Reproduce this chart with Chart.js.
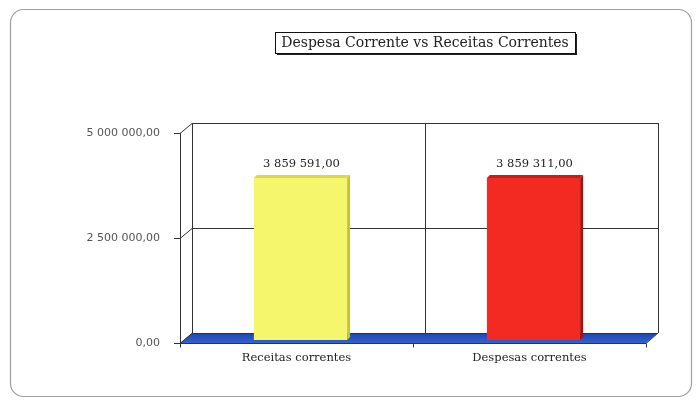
<!DOCTYPE html>
<html>
<head>
<meta charset="utf-8">
<script src="https://cdn.jsdelivr.net/npm/chart.js@4/dist/chart.umd.min.js"></script>
<style>
  html, body { margin: 0; padding: 0; background: #fff; }
  #wrap { width: 698px; height: 403px; }
</style>
</head>
<body>
<div id="wrap"><canvas id="chart" width="698" height="403"></canvas></div>
<script>
// chart data
const categories = ['Receitas correntes', 'Despesas correntes'];
const values = [3859591.00, 3859311.00];
const barColors = ['#f6f66c', '#f22a22'];
const barTopColors = ['#d9d94e', '#c81c16'];
const barSideColors = ['#c4c43c', '#a81410'];
const chartTitle = 'Despesa Corrente vs Receitas Correntes';
const yMax = 5000000;
const yStep = 2500000;

// 3d depth of the walls and bars
const depthX = 12, depthY = -10;
const barShiftX = 4, barShiftY = -3;

function formatPt(v) {
    const parts = v.toFixed(2).split('.');
    const intPart = parts[0].replace(/\B(?=(\d{3})+(?!\d))/g, ' ');
    return intPart + ',' + parts[1];
}

const frame3d = {
    id: 'frame3d',
    beforeDraw(chart) {
        const ctx = chart.ctx;
        ctx.save();
        // card border
        ctx.strokeStyle = '#a0a0a0';
        ctx.lineWidth = 1.2;
        ctx.beginPath();
        ctx.roundRect(10.5, 9.5, 681, 387, 13);
        ctx.stroke();

        // title box
        ctx.font = '14px "DejaVu Serif"';
        const tw = ctx.measureText(chartTitle).width;
        const cx = 425, bx = Math.round(cx - tw / 2 - 6), bw = Math.round(tw + 12);
        ctx.fillStyle = '#222';
        ctx.fillRect(bx + 2, 34, bw, 21);
        ctx.fillStyle = '#fff';
        ctx.fillRect(bx, 32, bw, 21);
        ctx.strokeStyle = '#111';
        ctx.lineWidth = 1;
        ctx.strokeRect(bx + 0.5, 32.5, bw, 21);
        ctx.fillStyle = '#222';
        ctx.textAlign = 'center';
        ctx.textBaseline = 'middle';
        ctx.fillText(chartTitle, cx, 43.5);
        ctx.restore();
    },
    beforeDatasetsDraw(chart) {
        const ctx = chart.ctx;
        const a = chart.chartArea;
        const y = chart.scales.y;
        const x = chart.scales.x;
        ctx.save();
        ctx.strokeStyle = '#333';
        ctx.lineWidth = 1;
        const top = y.getPixelForValue(yMax);
        const bot = y.getPixelForValue(0);

        // blue floor
        const grad = ctx.createLinearGradient(0, bot + depthY, 0, bot);
        grad.addColorStop(0, '#1f44b0');
        grad.addColorStop(1, '#3462d0');
        ctx.fillStyle = grad;
        ctx.beginPath();
        ctx.moveTo(a.left, bot);
        ctx.lineTo(a.right, bot);
        ctx.lineTo(a.right + depthX, bot + depthY);
        ctx.lineTo(a.left + depthX, bot + depthY);
        ctx.closePath();
        ctx.fill();

        // back wall gridlines
        ctx.beginPath();
        for (let v = 0; v <= yMax; v += yStep) {
            const py = Math.round(y.getPixelForValue(v) + depthY) + 0.5;
            ctx.moveTo(a.left + depthX, py);
            ctx.lineTo(a.right + depthX, py);
            // side wall diagonal and tick
            const fy = Math.round(y.getPixelForValue(v)) + 0.5;
            ctx.moveTo(a.left - 6, fy);
            ctx.lineTo(a.left, fy);
            ctx.lineTo(a.left + depthX, py);
        }
        // wall edges
        const bl = Math.round(a.left + depthX) + 0.5;
        const br = Math.round(a.right + depthX) + 0.5;
        ctx.moveTo(bl, top + depthY);
        ctx.lineTo(bl, bot + depthY);
        ctx.moveTo(br, top + depthY);
        ctx.lineTo(br, bot + depthY);
        // category divider on the back wall
        for (let i = 1; i < categories.length; i++) {
            const px = Math.round((x.getPixelForValue(i - 1) + x.getPixelForValue(i)) / 2 + depthX) + 0.5;
            ctx.moveTo(px, top + depthY);
            ctx.lineTo(px, bot + depthY);
        }
        // front y axis
        const fl = Math.round(a.left) + 0.5;
        ctx.moveTo(fl, top);
        ctx.lineTo(fl, bot);
        // front floor edge and right corner
        const fb = Math.round(bot) + 0.5;
        ctx.moveTo(a.left, fb);
        ctx.lineTo(a.right, fb);
        ctx.lineTo(a.right + depthX, bot + depthY);
        // x ticks
        for (let i = 0; i <= categories.length; i++) {
            const px = Math.round(a.left + (a.right - a.left) * i / categories.length) + 0.5;
            ctx.moveTo(px, fb);
            ctx.lineTo(px, fb + 4);
        }
        ctx.stroke();
        ctx.restore();

        // bars sit a little behind the front edge
        ctx.save();
        ctx.translate(barShiftX, barShiftY);
    },
    afterDatasetsDraw(chart) {
        const ctx = chart.ctx;
        const meta = chart.getDatasetMeta(0);
        meta.data.forEach((bar, i) => {
            const half = bar.width / 2;
            const l = bar.x - half, r = bar.x + half, t = bar.y, b = bar.base;
            // top face
            ctx.fillStyle = barTopColors[i];
            ctx.beginPath();
            ctx.moveTo(l, t);
            ctx.lineTo(l + 3, t - 3);
            ctx.lineTo(r + 3, t - 3);
            ctx.lineTo(r, t);
            ctx.closePath();
            ctx.fill();
            // side face
            ctx.fillStyle = barSideColors[i];
            ctx.beginPath();
            ctx.moveTo(r, t);
            ctx.lineTo(r + 3, t - 3);
            ctx.lineTo(r + 3, b - 3);
            ctx.lineTo(r, b);
            ctx.closePath();
            ctx.fill();
            // value label
            ctx.fillStyle = '#222';
            ctx.font = '11.5px "DejaVu Serif"';
            ctx.textAlign = 'center';
            ctx.textBaseline = 'alphabetic';
            ctx.fillText(formatPt(values[i]), bar.x + 1, t - 11);
        });
        ctx.restore();
    }
};

const ctx = document.getElementById('chart').getContext('2d');
new Chart(ctx, {
    type: 'bar',
    data: {
        labels: categories,
        datasets: [{
            data: values,
            backgroundColor: barColors,
            borderWidth: 0,
            categoryPercentage: 0.8,
            barPercentage: 0.5
        }]
    },
    options: {
        responsive: false,
        animation: false,
        layout: { padding: { left: 0, right: 52, top: 133, bottom: 20 } },
        plugins: {
            legend: { display: false },
            title: { display: false },
            tooltip: { enabled: false }
        },
        scales: {
            y: {
                min: 0,
                max: yMax,
                afterFit(scale) { scale.width = 180; },
                grid: { display: false },
                border: { display: false },
                ticks: {
                    stepSize: yStep,
                    padding: 12,
                    color: '#555',
                    font: { family: '"DejaVu Sans"', size: 11 },
                    callback: v => formatPt(v)
                }
            },
            x: {
                afterFit(scale) { scale.height = 40; },
                grid: { display: false },
                border: { display: false },
                ticks: {
                    padding: 0,
                    color: '#222',
                    font: { family: '"DejaVu Serif"', size: 11.5 }
                }
            }
        }
    },
    plugins: [frame3d]
});
</script>
</body>
</html>
